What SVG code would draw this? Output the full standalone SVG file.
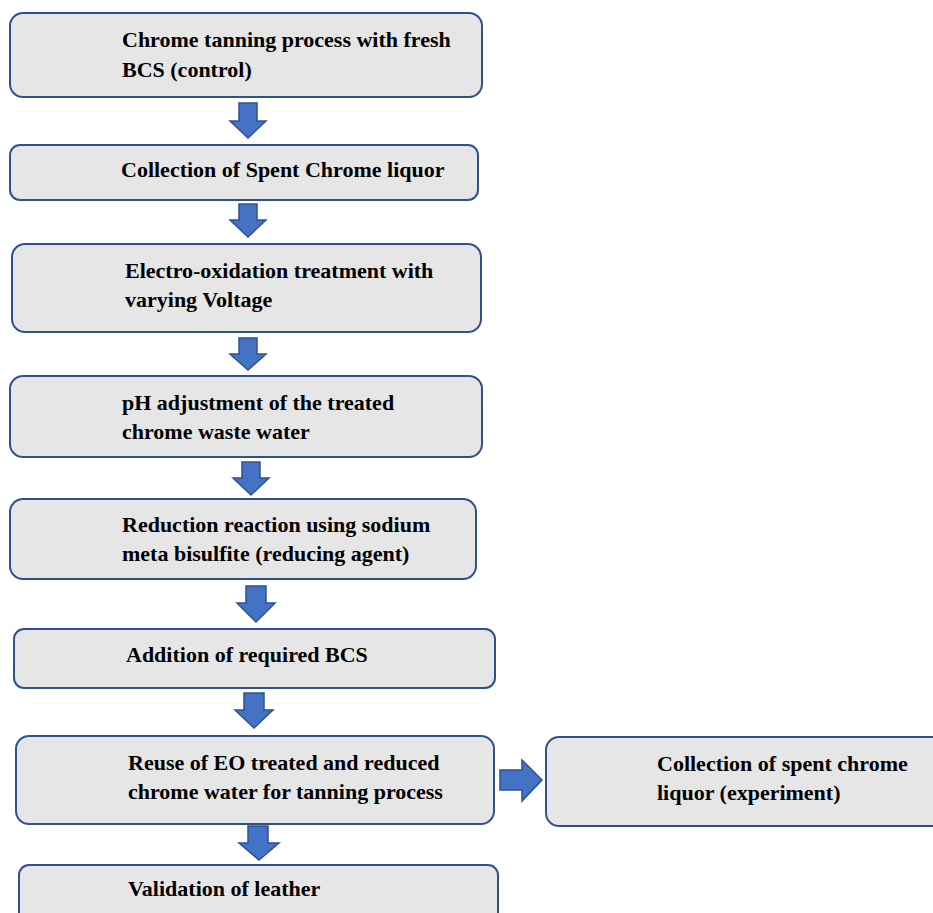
<svg xmlns="http://www.w3.org/2000/svg" width="933" height="913" viewBox="0 0 933 913">
<defs>
<style>
.box{fill:#E7E6E6;stroke:#2F528F;stroke-width:2}
.arr{fill:#4472C4;stroke:#2F528F;stroke-width:1.5;stroke-linejoin:miter}
text{font-family:"Liberation Serif","Times New Roman",serif;font-weight:bold;font-size:22px;fill:#000}
</style>
</defs>
<rect width="933" height="913" fill="#fff"/>
<g id="connectors">
<path class="arr" d="M239,103 H257 V121 H266 L248,138 L230,121 H239 Z"/>
<path class="arr" d="M239,204 H257 V220 H266 L248,237 L230,220 H239 Z"/>
<path class="arr" d="M239,338 H257 V354 H266 L248,370 L230,354 H239 Z"/>
<path class="arr" d="M242,462 H260 V478 H269 L251,495 L233,478 H242 Z"/>
<path class="arr" d="M246,586 H266 V603 H275 L256,622 L237,603 H246 Z"/>
<path class="arr" d="M244,693 H264 V710 H273 L254,728 L235,710 H244 Z"/>
<path class="arr" d="M248,826 H268 V843 H279 L259,860 L239,843 H248 Z"/>
<path class="arr" d="M500,770 H522 V760 L542,780 L522,801 V790 H500 Z"/>
</g>
<g id="n1"><rect class="box" x="10" y="13" width="472" height="84" rx="13"/><text x="122" y="47">Chrome tanning process with fresh</text><text x="122" y="77">BCS (control)</text></g>
<g id="n2"><rect class="box" x="10" y="145" width="468" height="55" rx="10"/><text x="121" y="177">Collection of Spent Chrome liquor</text></g>
<g id="n3"><rect class="box" x="12" y="244" width="469" height="88" rx="13"/><text x="125" y="278">Electro-oxidation treatment with</text><text x="125" y="307">varying Voltage</text></g>
<g id="n4"><rect class="box" x="10" y="376" width="472" height="81" rx="13"/><text x="122" y="410">pH adjustment of the treated</text><text x="122" y="439">chrome waste water</text></g>
<g id="n5"><rect class="box" x="10" y="499" width="466" height="80" rx="13"/><text x="122" y="532">Reduction reaction using sodium</text><text x="122" y="561">meta bisulfite (reducing agent)</text></g>
<g id="n6"><rect class="box" x="14" y="629" width="481" height="59" rx="10"/><text x="126" y="662">Addition of required BCS</text></g>
<g id="n7"><rect class="box" x="16" y="736" width="478" height="88" rx="13"/><text x="128" y="770">Reuse of EO treated and reduced</text><text x="128" y="799">chrome water for tanning process</text></g>
<g id="n8"><rect class="box" x="546" y="737" width="400" height="89" rx="13"/><text x="657" y="771">Collection of spent chrome</text><text x="657" y="800">liquor (experiment)</text></g>
<g id="n9"><rect class="box" x="19" y="865" width="479" height="60" rx="10"/><text x="128" y="896">Validation of leather</text></g>
</svg>
